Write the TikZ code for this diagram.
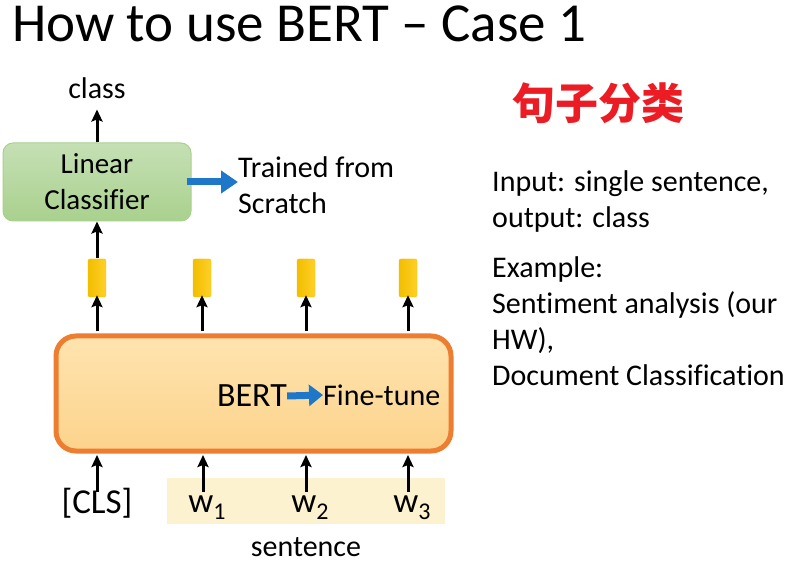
\documentclass[tikz,border=0pt]{standalone}
\usepackage{fontspec}
\setmainfont{Carlito}[Ligatures=NoCommon]
\newfontfamily\cjk{Noto Sans CJK SC}
\usetikzlibrary{arrows.meta}

\definecolor{clsgreen}{RGB}{169,209,142}
\definecolor{clsgreenlt}{RGB}{197,224,180}
\definecolor{bertorange}{RGB}{237,125,49}
\definecolor{bertfill}{RGB}{252,211,140}
\definecolor{bertfilllt}{RGB}{255,228,175}
\definecolor{vecyellow}{RGB}{242,190,0}
\definecolor{vecyellowlt}{RGB}{255,208,40}
\definecolor{bandyellow}{RGB}{253,242,208}
\definecolor{arrowblue}{RGB}{31,119,201}
\definecolor{titlered}{RGB}{236,28,36}

\newcommand{\wsub}[1]{w\raisebox{-7pt}{\fontsize{24}{24}\selectfont #1}}

\tikzset{
  arr/.style={line width=3pt,-{Stealth[length=12pt,width=11pt,inset=2pt]}},
  bluearr/.style={draw=arrowblue,line width=7pt,-{Triangle[length=17pt,width=22pt]}},
  linbox/.style={rounded corners=10pt,draw=clsgreen,line width=1pt,
    top color=clsgreenlt,bottom color=clsgreen,minimum width=188pt,
    minimum height=78pt,align=center,font=\fontsize{29}{36}\selectfont},
  vecbox/.style={rounded corners=2pt,left color=vecyellow,right color=vecyellowlt,
    draw=vecyellow,line width=0.4pt,minimum width=18pt,minimum height=38pt,inner sep=0pt},
  bertbox/.style={rounded corners=20pt,draw=bertorange,line width=5pt,
    top color=bertfilllt,bottom color=bertfill,minimum width=395pt,minimum height=115pt},
  txt/.style={font=\fontsize{30}{36}\selectfont,inner sep=0pt},
}

\begin{document}
\begin{tikzpicture}[x=1pt,y=-1pt]
\useasboundingbox[fill=white] (0,0) rectangle (788,564);

% title
\node[anchor=base west,inner sep=0pt,font=\fontsize{55}{60}\selectfont] (title) at (12,42) {How to use BERT – Case 1};
\node[anchor=base west,inner sep=0pt,text=titlered,font=\cjk\bfseries\fontsize{43}{50}\selectfont] (zh) at (512,120) {句子分类};

% classifier part
\node[txt] (class) at (97,88) {class};
\node[linbox] (lin) at (97,182) {Linear\\Classifier};
\node[txt,anchor=west,align=left] (scratch) at (238,185) {Trained from\\Scratch};
\draw[bluearr] (lin.east) ++(-5,0) coordinate (b1) -- (b1 -| scratch.west);

% output vectors
\node[vecbox] (h0) at (97,278) {};
\node[vecbox] (h1) at (202,278) {};
\node[vecbox] (h2) at (306,278) {};
\node[vecbox] (h3) at (408,278) {};

\draw[arr] (lin.north) -- ++(0,-33);
\draw[arr] (h0.north) ++(0,-1) -- (lin.south);

% bert
\node[bertbox] (bert) at (253.5,393.5) {};
\node[inner sep=0pt,font=\fontsize{34}{40}\selectfont] (bertname) at (252,396) {BERT};
\node[inner sep=0pt,anchor=west,font=\fontsize{30}{36}\selectfont] (tune) at (323,395) {Fine-tune};
\draw[draw=arrowblue,line width=7pt,-{Triangle[length=14pt,width=21pt]}] (bertname.east) -- (tune.west);

\foreach \i in {0,...,3}
  \draw[arr] (h\i.south |- bert.north) ++(0,-2) -- ([yshift=2pt]h\i.south);

% inputs
\fill[bandyellow] (167,478) rectangle (445,524);
\node[txt,anchor=base,font=\fontsize{35}{40}\selectfont] (cls) at (97,513) {[CLS]};
\node[txt,anchor=base,font=\fontsize{35}{40}\selectfont] (w1) at (207,512) {\wsub{1}};
\node[txt,anchor=base,font=\fontsize{35}{40}\selectfont] (w2) at (310,512) {\wsub{2}};
\node[txt,anchor=base,font=\fontsize{35}{40}\selectfont] (w3) at (412,512) {\wsub{3}};
\node[txt] (sent) at (306,547) {sentence};

\draw[arr] (97,492) -- (97,455);
\foreach \w/\x in {w1/203,w2/306,w3/408}
  \draw[arr] (\x,492) -- (\x,455);

% description
\node[txt,anchor=north west,align=left] (desc) at (492,170)
  {Input: single sentence,\\output: class};
\node[txt,anchor=north west,align=left] (example) at (492,256)
  {Example:\\Sentiment analysis (our\\HW),\\Document Classification};

\end{tikzpicture}
\end{document}
